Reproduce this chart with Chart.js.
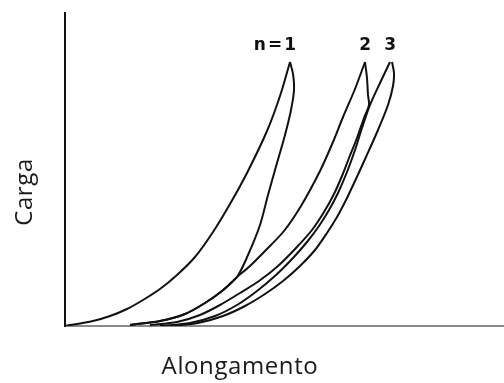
<!DOCTYPE html>
<html>
<head>
<meta charset="utf-8">
<script src="https://cdn.jsdelivr.net/npm/chart.js@4.4.1/dist/chart.umd.min.js"></script>
<style>
  html, body { margin: 0; padding: 0; background: #ffffff; }
  #wrap { width: 504px; height: 383px; position: relative; }
</style>
</head>
<body>
<div id="wrap"><canvas id="c" width="504" height="383"></canvas></div>
<script>
// Axis titles and curve labels
const yTitle = 'Carga';
const xTitle = 'Alongamento';
const cycleLabels = ['n=1', '2', '3'];

// Branches of the hysteresis loops: [alongamento, carga] (arbitrary units)
const load1 = [[0,0],[28,5],[45,10],[62,17],[78,26],[95,37],[112,51],[130,69],[148,94],[165,122],[182,153],[202,195],[215,230],[225,264]];
const unload1 = [[225,264],[228,252],[229,236],[226,216],[220,191],[212,163],[203,131],[195,101],[183,71],[172,49],[157,35],[140,23],[120,12],[95,5],[65,1]];
const load2 = [[65,1],[95,5],[120,12],[140,23],[157,35],[172,49],[185,60],[200,75],[219,95],[236,120],[255,155],[268,184],[278,209],[290,237],[300,264]];
const unload2 = [[300,264],[302,248],[303,231],[304,221],[299,208],[292,188],[284,168],[277,150],[269,132],[259,114],[247,96],[231,78],[213,60],[194,45],[175,33],[155,21],[135,11],[112,4],[85,1]];
const load3 = [[95,0],[125,3],[150,10],[172,21],[192,35],[211,51],[228,68],[242,84],[254,100],[264,116],[273,133],[282,154],[290,176],[297,198],[305,221],[315,243],[325,264]];
const unload3 = [[327,264],[329,253],[328,240],[323,221],[313,196],[301,169],[290,145],[281,126],[272,109],[262,93],[250,76],[235,60],[218,45],[200,32],[180,20],[158,10],[133,3],[105,0]];

const xMax = 439;
const yMax = 313;

const branches = [load1, unload1, load2, unload2, load3, unload3];
const peaks = [load1, load2, load3].map(a => a[a.length - 1]);

const toPts = arr => arr.map(p => ({ x: p[0], y: p[1] }));

const textPlugin = {
  id: 'texts',
  afterDraw(chart) {
    const ctx = chart.ctx;
    const xs = chart.scales.x, ys = chart.scales.y;
    ctx.save();
    ctx.fillStyle = '#111';
    ctx.font = 'bold 17px "DejaVu Sans"';
    ctx.textAlign = 'right';
    ctx.textBaseline = 'alphabetic';
    peaks.forEach((p, i) => {
      const px = xs.getPixelForValue(p[0]);
      const py = ys.getPixelForValue(p[1]);
      ctx.letterSpacing = i === 0 ? '2px' : '0px';
      ctx.fillText(cycleLabels[i], px + (i === 0 ? 8 : 6), py - 12);
    });
    ctx.letterSpacing = '0.6px';
    ctx.fillStyle = '#1a1a1a';
    ctx.font = '24px "Open Sans"';
    ctx.textAlign = 'center';
    ctx.textBaseline = 'middle';
    ctx.fillText(xTitle, 240, 367);
    ctx.translate(25, 192);
    ctx.rotate(-Math.PI / 2);
    ctx.fillText(yTitle, 0, 0);
    ctx.restore();
  }
};

new Chart(document.getElementById('c'), {
  type: 'scatter',
  data: {
    datasets: branches.map(b => ({
      data: toPts(b),
      showLine: true,
      borderColor: '#111111',
      borderWidth: 2,
      pointRadius: 0,
      tension: 0.3,
      fill: false
    }))
  },
  options: {
    responsive: false,
    animation: false,
    devicePixelRatio: 1,
    layout: { padding: { left: 57, top: 13, right: 0, bottom: 49 } },
    plugins: { legend: { display: false }, tooltip: { enabled: false } },
    scales: {
      x: {
        type: 'linear', min: 0, max: xMax,
        ticks: { display: false },
        grid: { display: false },
        border: { display: true, color: '#8a8a8a', width: 2 }
      },
      y: {
        type: 'linear', min: 0, max: yMax,
        ticks: { display: false },
        grid: { display: false },
        border: { display: true, color: '#111111', width: 2 }
      }
    }
  },
  plugins: [textPlugin]
});
</script>
</body>
</html>
